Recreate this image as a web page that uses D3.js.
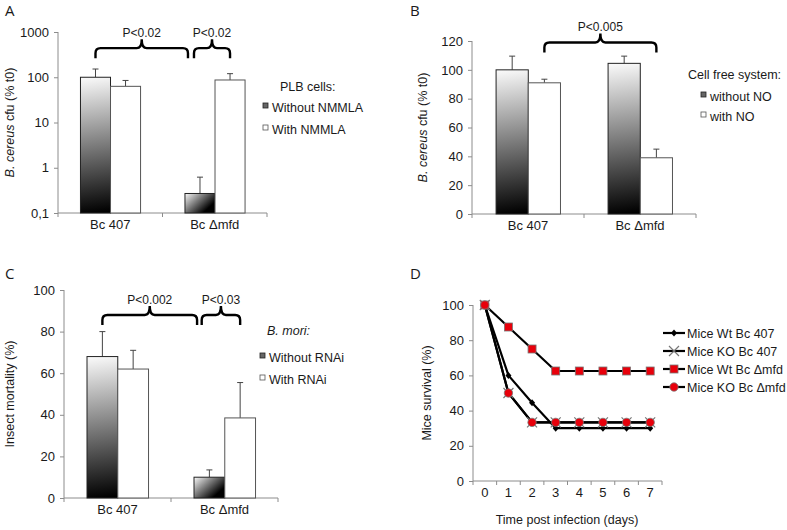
<!DOCTYPE html>
<meta charset="utf-8">
<script src="https://d3js.org/d3.v7.min.js"></script>
<style>
body { margin: 0; background: #fff; }
text { font-family: "Liberation Sans", Arial, sans-serif; fill: #1a1a1a; }
.letter { font-family: "Open Sans", sans-serif; font-size: 15px; }
.axis path, .axis line { stroke: #8c8c8c; }
</style>
<body>
<div id="chart"></div>
</body>
<script>

// ---- data ----
const groups = ["Bc 407", "Bc \u0394mfd"];

// panel A : PLB cells (log scale)
const aWithout = [100, 0.27];
const aWithoutErr = [52, 0.35];
const aWith = [63, 87];
const aWithErr = [22, 33];
const aTicks = [0.1, 1, 10, 100, 1000];
const aTickLabels = ["0,1", "1", "10", "100", "1000"];

// panel B : cell free system
const bWithout = [100, 104.5];
const bWithoutErr = [9.5, 5];
const bWith = [91, 39];
const bWithErr = [2.5, 6];

// panel C : B. mori
const cWithout = [68, 10];
const cWithoutErr = [12, 3.5];
const cWith = [62, 38.5];
const cWithErr = [9, 17];

// panel D : mice survival
const days = [0, 1, 2, 3, 4, 5, 6, 7];
const wt407 = [100, 60, 44.5, 30, 30, 30, 30, 30];
const ko407 = [100, 50, 33.3, 33.3, 33.3, 33.3, 33.3, 33.3];
const wtMfd = [100, 87.5, 75, 62.5, 62.5, 62.5, 62.5, 62.5];
const koMfd = [100, 50, 33.3, 33.3, 33.3, 33.3, 33.3, 33.3];
const dSeries = ["Mice Wt Bc 407", "Mice KO Bc 407", "Mice Wt Bc \u0394mfd", "Mice KO Bc \u0394mfd"];

const svg = d3.select("#chart").append("svg")
  .attr("width", 787).attr("height", 530);
const defs = svg.append("defs");
let gradId = 0;

function brace(g, x1, x2, yLine, label) {
  const xm = (x1 + x2) / 2, r = 5, drop = 10, rise = 9;
  const p = `M${x1},${yLine + drop} L${x1},${yLine + r} Q${x1},${yLine} ${x1 + r},${yLine}` +
    ` L${xm - r},${yLine} Q${xm},${yLine} ${xm},${yLine - rise}` +
    ` Q${xm},${yLine} ${xm + r},${yLine} L${x2 - r},${yLine} Q${x2},${yLine} ${x2},${yLine + r} L${x2},${yLine + drop}`;
  g.append("path").attr("d", p).attr("fill", "none").attr("stroke", "#000").attr("stroke-width", 2.4);
  g.append("text").attr("x", xm).attr("y", yLine - rise - 2)
    .attr("text-anchor", "middle").style("font-size", "12px").text(label);
}

function barPanel(cfg) {
  const g = svg.append("g");
  const x = d3.scaleBand().domain(groups).range(cfg.xr);
  const xs = d3.scaleBand().domain([0, 1]).range([x.bandwidth() * 0.215, x.bandwidth() * 0.79]);
  const y = cfg.y;

  g.append("text").attr("class", "letter").attr("x", cfg.letter[0]).attr("y", cfg.letter[1]).text(cfg.name);

  // y axis
  const yAxis = d3.axisLeft(y).tickSize(4).tickPadding(5);
  if (cfg.ticks) yAxis.tickValues(cfg.ticks).tickFormat((d, i) => cfg.tickLabels[i]);
  else yAxis.ticks(cfg.nTicks);
  const ya = g.append("g").attr("class", "axis").attr("transform", `translate(${cfg.xr[0]},0)`).call(yAxis);
  ya.selectAll("text").style("font-size", "13px").attr("fill", "#1a1a1a");
  ya.select(".domain").attr("d", `M0,${y.range()[0]}V${y.range()[1]}`);

  // x axis
  const y0 = y.range()[0];
  const xa = g.append("g").attr("class", "axis");
  xa.append("line").attr("x1", cfg.xr[0]).attr("x2", cfg.xr[1]).attr("y1", y0).attr("y2", y0);
  xa.selectAll(".tk").data([cfg.xr[0], cfg.xr[0] + x.bandwidth(), cfg.xr[1]]).join("line")
    .attr("x1", d => d).attr("x2", d => d).attr("y1", y0).attr("y2", y0 + 4);
  g.selectAll(".cat").data(groups).join("text")
    .attr("x", d => x(d) + x.bandwidth() / 2).attr("y", y0 + 16)
    .attr("text-anchor", "middle").style("font-size", "13px").text(d => d);

  // y label
  const yl = g.append("text")
    .attr("transform", `translate(${cfg.ylx},${(y.range()[0] + y.range()[1]) / 2}) rotate(-90)`)
    .attr("text-anchor", "middle").style("font-size", "12.5px");
  cfg.ylabel.forEach(p => yl.append("tspan").style("font-style", p[1] ? "italic" : "normal").text(p[0]));

  // bars
  const rows = [];
  groups.forEach((gr, i) => {
    rows.push({ g: gr, s: 0, v: cfg.s0[i], e: cfg.e0[i] });
    rows.push({ g: gr, s: 1, v: cfg.s1[i], e: cfg.e1[i] });
  });
  rows.forEach(d => {
    const bx = x(d.g) + xs(d.s), bw = xs.bandwidth(), top = y(d.v);
    let fill = "#fff";
    if (d.s === 0) {
      const id = "grad" + (gradId++);
      const lg = defs.append("linearGradient").attr("id", id).attr("gradientUnits", "userSpaceOnUse")
        .attr("x1", bx).attr("y1", top).attr("x2", bx + bw * 0.6).attr("y2", y0);
      lg.append("stop").attr("offset", 0).attr("stop-color", "#fbfbfb");
      lg.append("stop").attr("offset", 1).attr("stop-color", "#000");
      fill = `url(#${id})`;
    }
    const et = y(d.v + d.e);
    g.append("line").attr("x1", bx + bw / 2).attr("x2", bx + bw / 2).attr("y1", top).attr("y2", et)
      .attr("stroke", "#444");
    g.append("line").attr("x1", bx + bw / 2 - 3).attr("x2", bx + bw / 2 + 3).attr("y1", et).attr("y2", et)
      .attr("stroke", "#444");
    g.append("rect").attr("x", bx).attr("y", top).attr("width", bw).attr("height", y0 - top)
      .attr("fill", fill).attr("stroke", d.s === 0 ? "#222" : "#555").attr("stroke-width", 1);
  });

  // braces
  cfg.braces.forEach(b => {
    const px = p => x(groups[p[0]]) + xs(p[1]) + xs.bandwidth() * p[2];
    brace(g, px(b.from), px(b.to), y(b.level), b.label);
  });

  // legend
  const L = cfg.legend;
  const lt = g.append("text").attr("x", L.x + L.tdx).attr("y", L.y).style("font-size", "12.5px");
  lt.append("tspan").style("font-style", L.italic ? "italic" : "normal").text(L.title);
  L.items.forEach((t, i) => {
    const yy = L.y + L.dy0 + i * L.dy;
    g.append("rect").attr("x", L.x).attr("y", yy - 9).attr("width", 5).attr("height", 5)
      .attr("fill", i === 0 ? "#666" : "#fff").attr("stroke", i === 0 ? "#222" : "#555").attr("stroke-width", 0.8);
    g.append("text").attr("x", L.x + 9).attr("y", yy).style("font-size", "12.5px").text(t);
  });
}

barPanel({
  name: "A", letter: [5, 16], xr: [58, 267],
  y: d3.scaleLog().domain([0.1, 1000]).range([213, 32]),
  ticks: aTicks, tickLabels: aTickLabels,
  ylx: 14, ylabel: [["B. cereus", true], [" cfu (% t0)", false]],
  s0: aWithout, e0: aWithoutErr, s1: aWith, e1: aWithErr,
  braces: [
    { from: [0, 0, 0.5], to: [1, 0, 0.1], level: 440, label: "P<0.02" },
    { from: [1, 0, 0.3], to: [1, 1, 0.5], level: 440, label: "P<0.02" }
  ],
  legend: { x: 263, y: 91, tdx: 17, title: "PLB cells:", items: ["Without NMMLA", "With NMMLA"], dy0: 21, dy: 22 }
});

barPanel({
  name: "B", letter: [410, 16], xr: [472, 696],
  y: d3.scaleLinear().domain([0, 120]).range([214, 41]), nTicks: 6,
  ylx: 427, ylabel: [["B. cereus", true], [" cfu (% t0)", false]],
  s0: bWithout, e0: bWithoutErr, s1: bWith, e1: bWithErr,
  braces: [
    { from: [0, 1, 0.5], to: [1, 1, 0.5], level: 119, label: "P<0.005" }
  ],
  legend: { x: 701, y: 79, tdx: -13, title: "Cell free system:", items: ["without NO", "with NO"], dy0: 22, dy: 20 }
});

barPanel({
  name: "C", letter: [5, 279], xr: [64, 278],
  y: d3.scaleLinear().domain([0, 100]).range([498, 290]), nTicks: 5,
  ylx: 14, ylabel: [["Insect mortality (%)", false]],
  s0: cWithout, e0: cWithoutErr, s1: cWith, e1: cWithErr,
  braces: [
    { from: [0, 0, 0.5], to: [1, 0, 0.1], level: 88, label: "P<0.002" },
    { from: [1, 0, 0.25], to: [1, 1, 0.5], level: 88, label: "P<0.03" }
  ],
  legend: { x: 260, y: 335, tdx: 7, italic: true, title: "B. mori:", items: ["Without RNAi", "With RNAi"], dy0: 27, dy: 22 }
});

// ---- panel D ----
(function () {
  const g = svg.append("g");
  const x = d3.scaleBand().domain(days).range([473, 662]);
  const y = d3.scaleLinear().domain([0, 100]).range([481, 305]);
  const cx = d => x(d) + x.bandwidth() / 2;

  g.append("text").attr("class", "letter").attr("x", 410).attr("y", 279).text("D");

  const ya = g.append("g").attr("class", "axis").attr("transform", "translate(473,0)")
    .call(d3.axisLeft(y).ticks(5).tickSize(4).tickPadding(5));
  ya.selectAll("text").style("font-size", "13px").attr("fill", "#1a1a1a");
  ya.select(".domain").attr("d", "M0,481V305");

  const xa = g.append("g").attr("class", "axis");
  xa.append("line").attr("x1", 473).attr("x2", 662).attr("y1", 481).attr("y2", 481);
  xa.selectAll(".tk").data(days.map(d => x(d)).concat([662])).join("line")
    .attr("x1", d => d).attr("x2", d => d).attr("y1", 481).attr("y2", 485);
  g.selectAll(".xl").data(days).join("text")
    .attr("x", cx).attr("y", 497).attr("text-anchor", "middle").style("font-size", "13px").text(d => d);
  g.append("text").attr("x", 567).attr("y", 524).attr("text-anchor", "middle")
    .style("font-size", "12.5px").text("Time post infection (days)");
  g.append("text").attr("transform", "translate(431,393) rotate(-90)").attr("text-anchor", "middle")
    .style("font-size", "12.5px").text("Mice survival (%)");

  const series = [wt407, ko407, wtMfd, koMfd];
  const line = d3.line().x((d, i) => cx(days[i])).y(d => y(d));
  series.forEach(s => {
    g.append("path").attr("d", line(s)).attr("fill", "none").attr("stroke", "#000").attr("stroke-width", 2.2);
  });

  function marker(k, px, py) {
    if (k === 0) {
      g.append("path").attr("d", `M${px},${py - 3.5}L${px + 3},${py}L${px},${py + 3.5}L${px - 3},${py}Z`).attr("fill", "#000");
    } else if (k === 1) {
      g.append("path").attr("d", `M${px - 5},${py - 5}L${px + 5},${py + 5}M${px - 5},${py + 5}L${px + 5},${py - 5}`)
        .attr("stroke", "#777").attr("stroke-width", 1.2);
    } else if (k === 2) {
      g.append("rect").attr("x", px - 4).attr("y", py - 4).attr("width", 8).attr("height", 8)
        .attr("fill", "#e8000b").attr("stroke", "#777").attr("stroke-width", 0.8);
    } else {
      g.append("circle").attr("cx", px).attr("cy", py).attr("r", 4.2)
        .attr("fill", "#e8000b").attr("stroke", "#777").attr("stroke-width", 0.8);
    }
  }
  series.forEach((s, k) => s.forEach((v, i) => marker(k, cx(days[i]), y(v))));

  dSeries.forEach((name, k) => {
    const ly = 333 + k * 18;
    g.append("line").attr("x1", 663).attr("x2", 685).attr("y1", ly).attr("y2", ly).attr("stroke", "#000").attr("stroke-width", 2.2);
    marker(k, 674, ly);
    g.append("text").attr("x", 687).attr("y", ly + 4.5).style("font-size", "12.5px").text(name);
  });
})();

</script>
